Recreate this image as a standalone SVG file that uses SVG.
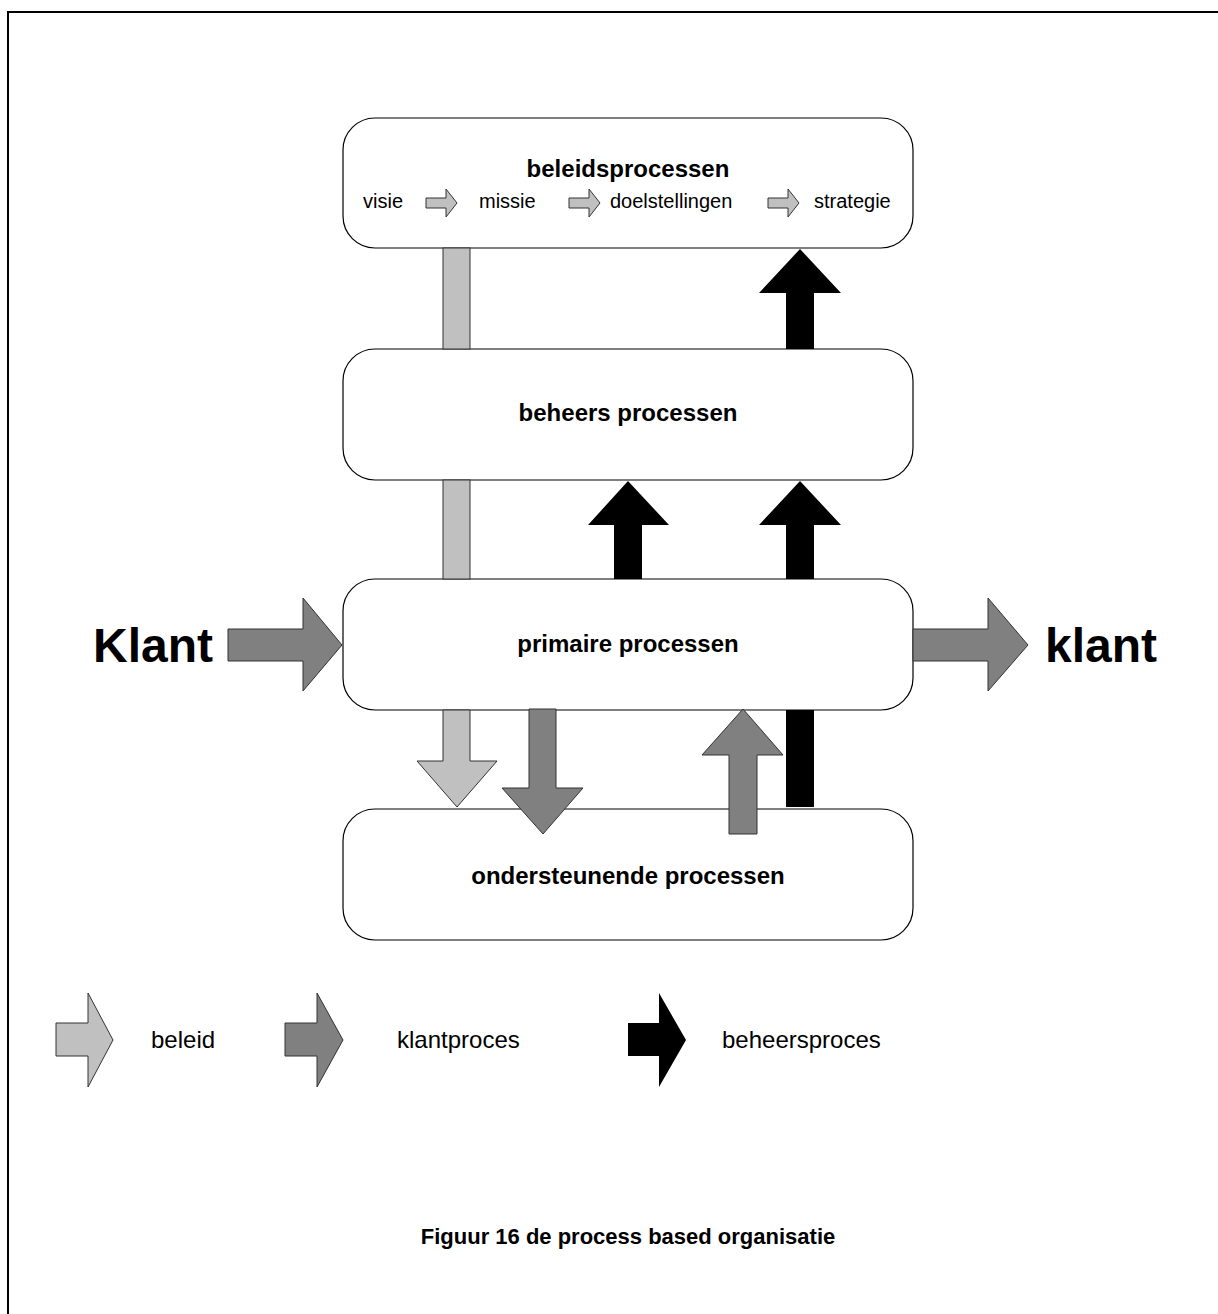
<svg xmlns="http://www.w3.org/2000/svg" width="1218" height="1314" viewBox="0 0 1218 1314">
  <style>
    .box { fill: #ffffff; stroke: #000000; stroke-width: 1.2; }
    .title { font-family: "Liberation Sans", Arial, sans-serif; font-weight: bold; font-size: 24px; fill: #000; text-anchor: middle; }
    .step { font-family: "Liberation Sans", Arial, sans-serif; font-size: 20px; fill: #000; }
    .big { font-family: "Liberation Sans", Arial, sans-serif; font-weight: bold; font-size: 48px; fill: #000; }
    .legend { font-family: "Liberation Sans", Arial, sans-serif; font-size: 24px; fill: #000; }
    .caption { font-family: "Liberation Sans", Arial, sans-serif; font-weight: bold; font-size: 22px; fill: #000; text-anchor: middle; }
    .policy { fill: #c0c0c0; stroke: #333333; stroke-width: 1; stroke-linejoin: miter; }
    .client { fill: #808080; stroke: #333333; stroke-width: 1; stroke-linejoin: miter; }
    .control { fill: #000000; stroke: none; }
  </style>

  <!-- page frame -->
  <path d="M8,1314 V12 H1218" fill="none" stroke="#000" stroke-width="2"/>

  <!-- process layers -->
  <g id="beleidsprocessen">
    <rect class="box" x="343" y="118" width="570" height="130" rx="32" ry="32"/>
    <text class="title" x="628" y="177">beleidsprocessen</text>
    <text class="step" x="363" y="208">visie</text>
    <path class="policy" d="M426,198 H446 V189 L457,203 L446,217 V208 H426 Z"/>
    <text class="step" x="479" y="208">missie</text>
    <path class="policy" d="M569,198 H589 V189 L600,203 L589,217 V208 H569 Z"/>
    <text class="step" x="610" y="208">doelstellingen</text>
    <path class="policy" d="M768,198 H788 V189 L799,203 L788,217 V208 H768 Z"/>
    <text class="step" x="814" y="208">strategie</text>
  </g>

  <g id="beheers-processen">
    <rect class="box" x="343" y="349" width="570" height="131" rx="32" ry="32"/>
    <text class="title" x="628" y="421">beheers processen</text>
  </g>

  <g id="primaire-processen">
    <rect class="box" x="343" y="579" width="570" height="131" rx="32" ry="32"/>
    <text class="title" x="628" y="652">primaire processen</text>
  </g>

  <g id="ondersteunende-processen">
    <rect class="box" x="343" y="809" width="570" height="131" rx="32" ry="32"/>
    <text class="title" x="628" y="884">ondersteunende processen</text>
  </g>

  <g id="klant-in">
    <text class="big" x="93" y="662">Klant</text>
  </g>
  <g id="klant-out">
    <text class="big" x="1045" y="662">klant</text>
  </g>

  <!-- flows between layers -->
  <g id="connectors">
    <!-- policy bars -->
    <rect class="policy" x="443" y="248" width="27" height="101"/>
    <rect class="policy" x="443" y="480" width="27" height="99"/>
    <path class="policy" d="M443,710 H470 V761 H497 L457,807 L417,761 H443 Z"/>

    <!-- control arrows -->
    <path class="control" d="M786,349 V293 H759 L800,249 L841,293 H814 V349 Z"/>
    <path class="control" d="M614,579 V525 H588 L628,481 L669,525 H642 V579 Z"/>
    <path class="control" d="M786,579 V525 H759 L800,481 L841,525 H814 V579 Z"/>
    <rect class="control" x="786" y="710" width="28" height="97"/>

    <!-- client arrows -->
    <path class="client" d="M529,709 H556 V788 H583 L543,834 L502,788 H529 Z"/>
    <path class="client" d="M729,834 V755 H702 L743,709 L783,755 H757 V834 Z"/>
    <path class="client" d="M228,629 H303 V598 L342,645 L303,691 V661 H228 Z"/>
    <path class="client" d="M913,629 H988 V598 L1028,645 L988,691 V661 H913 Z"/>
  </g>

  <!-- legend -->
  <g id="legend-beleid">
    <path class="policy" d="M56,1023 H88 V993 L113,1040 L88,1087 V1056 H56 Z"/>
    <text class="legend" x="151" y="1048">beleid</text>
  </g>
  <g id="legend-klantproces">
    <path class="client" d="M285,1023 H317 V993 L343,1040 L317,1087 V1056 H285 Z"/>
    <text class="legend" x="397" y="1048">klantproces</text>
  </g>
  <g id="legend-beheersproces">
    <path class="control" d="M628,1023 H659 V993 L686,1040 L659,1087 V1056 H628 Z"/>
    <text class="legend" x="722" y="1048">beheersproces</text>
  </g>

  <text class="caption" x="628" y="1244">Figuur 16 de process based organisatie</text>
</svg>
